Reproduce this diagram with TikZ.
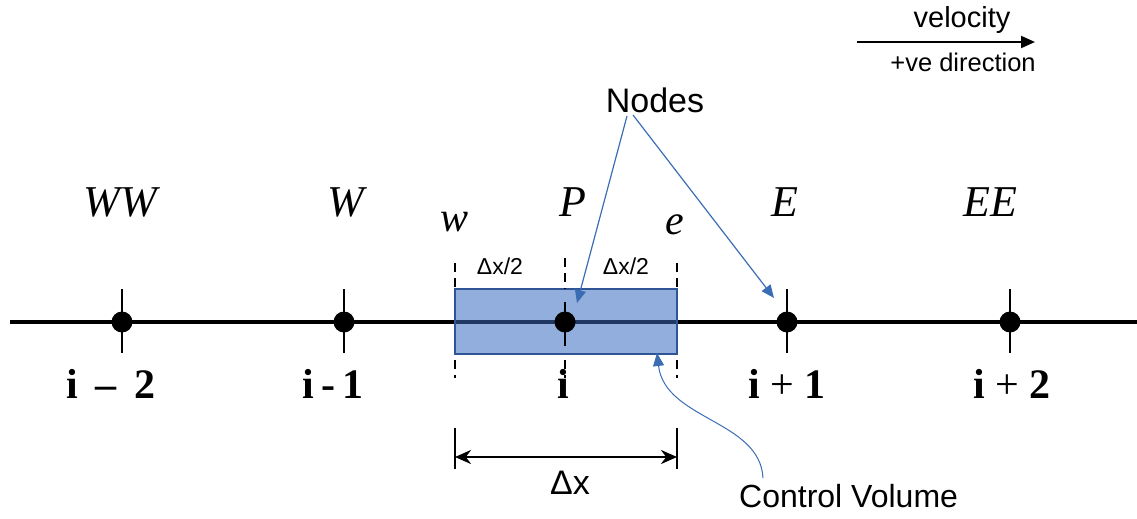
\documentclass[tikz,border=0pt]{standalone}
\usepackage{fontspec}
\setmainfont{Liberation Serif}
\setsansfont{Liberation Sans}
\usetikzlibrary{arrows.meta,calc}
\definecolor{cvfill}{HTML}{91AEDD}
\definecolor{cvline}{HTML}{2F5597}
\definecolor{cvaxis}{HTML}{1F3864}
\definecolor{ptr}{HTML}{3B6DB5}
\tikzset{
  grid label/.style={font=\fontsize{44}{50}\selectfont\itshape, inner sep=0pt},
  face label/.style={font=\fontsize{42}{48}\selectfont\itshape, inner sep=0pt},
  idx label/.style={font=\fontsize{42}{48}\selectfont\bfseries, inner sep=0pt},
  sans label/.style={font=\fontsize{#1}{#1}\selectfont\sffamily, inner sep=0pt},
  gridpt/.style={circle, fill=black, minimum size=21pt, inner sep=0pt},
  tickline/.style={line width=2.8pt},
  dashline/.style={line width=2pt, dash pattern=on 9pt off 6pt},
  pointer/.style={draw=ptr, line width=1.2pt, -{Triangle[width=11pt,length=13pt]}},
}
\begin{document}
\begin{tikzpicture}[x=1pt,y=-1pt]
\useasboundingbox (0,0) rectangle (1137,519);
% control volume box
\fill[cvfill] (455,289) rectangle (677,354);
% axis
\coordinate (axl) at (10,322);
\coordinate (axr) at (1137,322);
\draw[line width=4pt] (axl) -- (455,322);
\draw[line width=4pt] (677,322) -- (axr);
\draw[line width=4pt, cvaxis] (455,322) -- (677,322);
\draw[cvline, line width=2.4pt] (455,289) rectangle (677,354);
% ticks
\foreach \x in {122,344,787,1010}{
  \draw[tickline] (\x,289) -- (\x,353);
}
\draw[tickline] (565,302) -- (565,346);
% dashed face lines
\foreach \x in {455,677}{
  \draw[dashline] (\x,263) -- (\x,289);
  \draw[dashline] (\x,360) -- (\x,378);
}
\draw[dashline] (565,258) -- (565,289);
\draw[dashline] (565,360) -- (565,378);
% grid points
\node[gridpt] (nWW) at (122,322) {};
\node[gridpt] (nW) at (344,322) {};
\node[gridpt] (nP) at (565,322) {};
\node[gridpt] (nE) at (787,322) {};
\node[gridpt] (nEE) at (1010,322) {};
% labels above
\node[grid label] (lWW) at (120,202) {WW};
\node[grid label] (lW) at (346,202) {W};
\node[grid label] (lP) at (573,202) {P};
\node[grid label] (lE) at (785,202) {E};
\node[grid label] (lEE) at (990,202) {EE};
\node[face label] (lw) at (455,222) {w};
\node[face label] (le) at (675,225) {e};
\node[sans label=23] (h1) at (500,266) {Δx/2};
\node[sans label=23] (h2) at (626,266) {Δx/2};
% index labels
\node[idx label] (iWW) at (111,384) {i \,–\, 2};
\node[idx label] (iW) at (333,384) {i\,-\,1};
\node[idx label] (iP) at (563,384) {i};
\node[idx label] (iE) at (787,384) {i {\mdseries +} 1};
\node[idx label] (iEE) at (1012,384) {i {\mdseries +} 2};
% delta x dimension
\coordinate (dxl) at (455,457);
\coordinate (dxr) at (677,457);
\draw[line width=2.4pt] (455,428) -- (455,469);
\draw[line width=2.4pt] (677,428) -- (677,469);
\draw[line width=2.6pt, {Stealth[length=16pt,width=14pt]}-{Stealth[length=16pt,width=14pt]}] (dxl) -- (dxr);
\node[sans label=34] (dx) at (570,483) {Δx};
% Nodes pointers
\node[sans label=34] (nodes) at (655,100) {Nodes};
\coordinate (tipP) at (577,303);
\coordinate (tipE) at (774,298);
\draw[pointer] (627,116) -- (tipP);
\draw[pointer] (633,115) -- (tipE);
% control volume pointer
\node[sans label=32, anchor=west] (cvl) at (739,496) {Control Volume};
\coordinate (tipCV) at (657,353);
\draw[pointer, line width=1pt] (763,478) .. controls (760,420) and (665,420) .. (tipCV);
% velocity direction
\node[sans label=29] (vel) at (962,20) {velocity};
\node[sans label=25.5] (dir) at (963,62) {+ve direction};
\coordinate (va) at (857,42);
\coordinate (vb) at (1035,42);
\draw[line width=2pt, -{Triangle[width=12pt,length=14pt]}] (va) -- (vb);
\end{tikzpicture}
\end{document}
